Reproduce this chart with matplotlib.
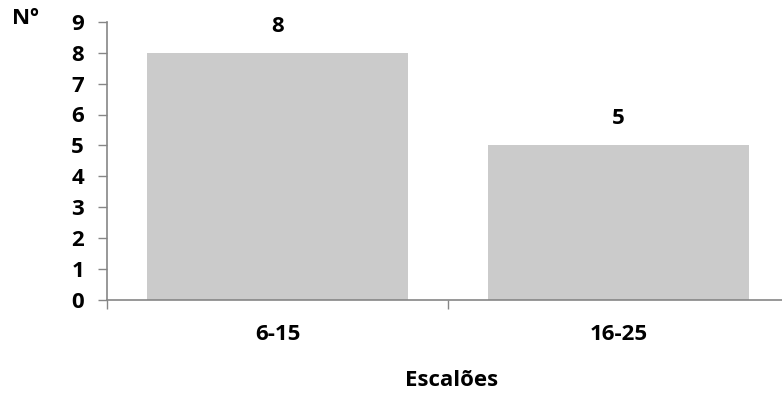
import matplotlib.pyplot as plt

plt.rcParams['font.family'] = ['Open Sans', 'DejaVu Sans']
plt.rcParams['font.weight'] = 'bold'

escaloes = ["6-15", "16-25"]
contagens = [8, 5]

FS = 16

fig = plt.figure(figsize=(7.82, 3.94), dpi=100)
ax = fig.add_axes([107 / 782, 1 - 299.5 / 394, 682 / 782, 277.5 / 394])

x = range(len(escaloes))
bars = ax.bar(x, contagens, width=0.765, color="#cbcbcb", zorder=2)

for b, v in zip(bars, contagens):
    ax.text(b.get_x() + b.get_width() / 2, v + 0.52, str(v),
            ha="center", va="bottom", fontsize=FS, fontweight="bold")

ax.set_xlim(-0.5, 1.5)
ax.set_ylim(0, 9)
ax.set_yticks(range(10))
ax.set_yticklabels([str(i) for i in range(10)], fontsize=FS, fontweight="bold")

# category labels sit between boundary ticks
ax.set_xticks([-0.5, 0.5, 1.5])
ax.set_xticklabels([])
ax.set_xticks([0, 1], minor=True)
ax.set_xticklabels(escaloes, minor=True, fontsize=FS, fontweight="bold")
ax.tick_params(axis="x", which="minor", length=0, pad=18)
ax.tick_params(axis="x", which="major", length=6.5, width=1, color="#868686")
ax.tick_params(axis="y", length=6.5, width=1, color="#868686", pad=10)

for s in ["top", "right"]:
    ax.spines[s].set_visible(False)
for s in ["left", "bottom"]:
    ax.spines[s].set_color("#868686")
    ax.spines[s].set_linewidth(1.2)

fig.text(12 / 782, 1 - 18 / 394, "Nº", fontsize=FS, fontweight="bold",
         ha="left", va="center")
fig.text(452 / 782, 1 - 381 / 394, "Escalões", fontsize=FS, fontweight="bold",
         ha="center", va="center")

fig.savefig("out.png", dpi=100)
